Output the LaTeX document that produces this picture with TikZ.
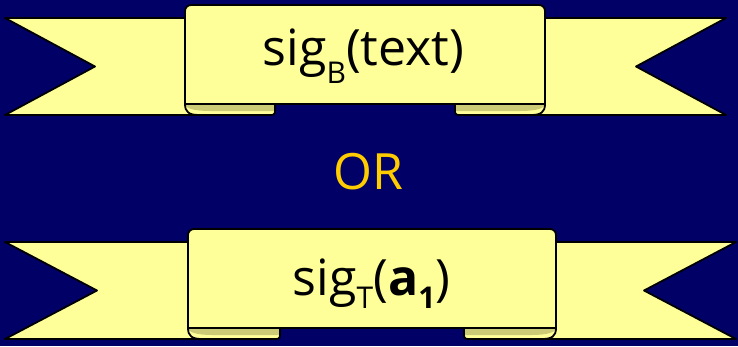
\documentclass[tikz,border=0pt]{standalone}
\usepackage{fontspec}
\setmainfont{Open Sans}
\definecolor{bgnavy}{HTML}{000066}
\definecolor{ribyellow}{HTML}{FFFF99}
\definecolor{folddark}{HTML}{CCCC77}
\definecolor{oryellow}{HTML}{FFCC00}
\tikzset{
  ribfill/.style={fill=ribyellow},
  ribline/.style={draw=black,line width=1.8pt,line join=round,line cap=round},
  darkfill/.style={fill=folddark},
  maintxt/.style={anchor=base,inner sep=0pt,font=\fontsize{50pt}{50pt}\selectfont,text=black},
  ortxt/.style={anchor=base,inner sep=0pt,font=\fontsize{50pt}{50pt}\selectfont,text=oryellow}
}
% #1 x0, #2 x1, #3 yt, #4 yb, #5 pl, #6 pr, #7 pt, #8 fold width, #9 notch depth
\newcommand\myribbon[9]{%
  \pgfmathsetmacro\pb{#4-11}%
  \pgfmathsetmacro\ym{(#3+#4)/2}%
  \pgfmathsetmacro\fl{#5+#8}%
  \pgfmathsetmacro\fr{#6-#8}%
  % tails (fill)
  \fill[ribfill] (#1,#3) -- (\fl,#3) -- (\fl,#4-4) .. controls (\fl,#4) and (\fl-2,#4) .. (\fl-6,#4) -- (#1,#4) -- (#1+#9,\ym) -- cycle;
  \fill[ribfill] (#2,#3) -- (\fr,#3) -- (\fr,#4-4) .. controls (\fr,#4) and (\fr+2,#4) .. (\fr+6,#4) -- (#2,#4) -- (#2-#9,\ym) -- cycle;
  % dark inner faces of the folds
  \fill[darkfill] (#5,\pb) -- (\fl,\pb) -- (\fl,\pb+7) -- (#5+25,\pb+7) .. controls (#5+8,\pb+7) and (#5,\pb+4) .. (#5,\pb) -- cycle;
  \fill[darkfill] (#6,\pb) -- (\fr,\pb) -- (\fr,\pb+7) -- (#6-25,\pb+7) .. controls (#6-8,\pb+7) and (#6,\pb+4) .. (#6,\pb) -- cycle;
  % tails (outline)
  \draw[ribline] (#5+10,#3) -- (#1,#3) -- (#1+#9,\ym) -- (#1,#4) -- (\fl-6,#4) .. controls (\fl-2,#4) and (\fl,#4) .. (\fl,#4-4) -- (\fl,\pb);
  \draw[ribline] (#6-10,#3) -- (#2,#3) -- (#2-#9,\ym) -- (#2,#4) -- (\fr+6,#4) .. controls (\fr+2,#4) and (\fr,#4) .. (\fr,#4-4) -- (\fr,\pb);
  % curls at the panel's lower corners
  \draw[ribline] (#5,\pb) .. controls (#5,#4-3) and (#5+4,#4) .. (#5+14,#4);
  \draw[ribline] (#6,\pb) .. controls (#6,#4-3) and (#6-4,#4) .. (#6-14,#4);
  % front panel
  \filldraw[ribfill,ribline] (#5,\pb) [rounded corners=6pt] -- (#5,#7) -- (#6,#7) [sharp corners] -- (#6,\pb) -- cycle;
}
\begin{document}
\begin{tikzpicture}[x=1pt,y=-1pt]
  \fill[bgnavy] (0,0) rectangle (738,346);
  \useasboundingbox (0,0) rectangle (738,346);
  \myribbon{5}{726}{18}{115}{185}{545}{5}{90}{90}
  \myribbon{5}{736}{242}{339}{188}{556}{229}{92}{92}
  \node[maintxt] (sigB) at (363.5,65) {sig\raisebox{-18pt}{\fontsize{30pt}{30pt}\selectfont B}(text)};
  \node[ortxt] (orword) at (368.5,189) {OR};
  \node[maintxt] (sigT) at (371.5,295) {sig\raisebox{-13pt}{\fontsize{30pt}{30pt}\selectfont T}(\textbf{a}\raisebox{-13pt}{\fontsize{30pt}{30pt}\selectfont\bfseries 1})};
\end{tikzpicture}
\end{document}
